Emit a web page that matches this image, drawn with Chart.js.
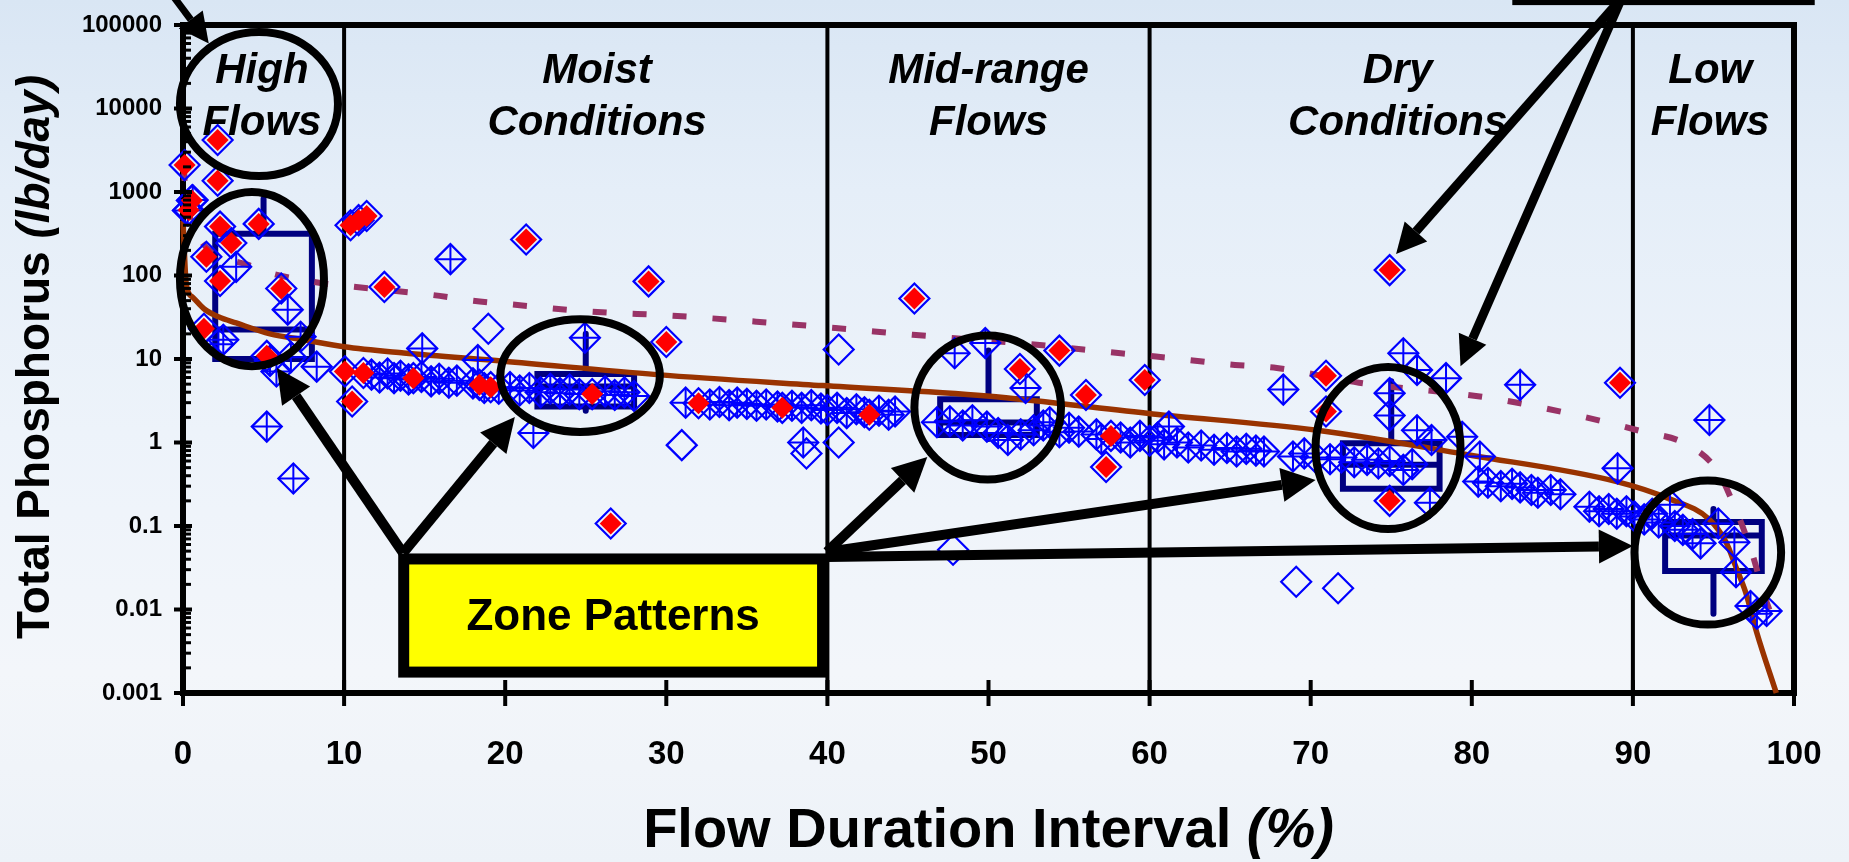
<!DOCTYPE html>
<html>
<head>
<meta charset="utf-8">
<title>Total Phosphorus load duration</title>
<script src="https://cdn.jsdelivr.net/npm/chart.js@4.4.1/dist/chart.umd.min.js"></script>
<style>
  html, body { margin: 0; padding: 0; }
  body {
    width: 1849px; height: 862px; overflow: hidden;
    background: linear-gradient(180deg, #d9e6f4 0%, #e5eef8 22%, #edf3fa 50%, #f3f6fa 78%, #edf2f8 100%);
  }
  #wrap { position: relative; width: 1849px; height: 862px; }
</style>
</head>
<body>
<div id="wrap"><canvas id="loadChart" width="1849" height="862"></canvas></div>
<script>
// axis ticks
const xTickValues = [0, 10, 20, 30, 40, 50, 60, 70, 80, 90, 100];
const xTickLabels = ["0", "10", "20", "30", "40", "50", "60", "70", "80", "90", "100"];
const yTickValues = [0.001, 0.01, 0.1, 1, 10, 100, 1000, 10000, 100000];
const yTickLabels = ["0.001", "0.01", "0.1", "1", "10", "100", "1000", "10000", "100000"];

// flow zones
const zoneEdges = [10, 40, 60, 90];
const zoneNames = [["High", "Flows"], ["Moist", "Conditions"], ["Mid-range", "Flows"], ["Dry", "Conditions"], ["Low", "Flows"]];
const zoneLabelX = [4.9, 25.7, 50, 75.4, 94.8];

// observed loads (flow interval %, lb/day)
const crossedPoints = [
  [0.3, 600], [0.6, 800], [3.3, 127], [6.5, 39], [2.5, 17], [2.2, 15], [7.3, 18.5], [8.3, 8.1],
  [5.8, 7.1], [5.4, 9.5], [6.7, 10.5], [5.2, 1.55], [6.85, 0.37],
  [16.6, 157], [14.85, 13.4], [18.3, 9.7], [11.7, 6.5], [12.2, 6.0], [12.7, 6.7], [13.1, 5.9],
  [13.5, 6.3], [14.0, 5.7], [14.8, 6.1], [15.4, 5.4], [15.9, 5.8], [16.5, 5.2], [17.0, 5.5],
  [18.0, 5.1], [18.7, 4.5], [19.6, 4.4],
  [20.3, 4.6], [20.9, 4.2], [21.5, 4.5], [22.2, 4.0], [22.8, 4.4], [23.4, 3.9], [24.0, 4.3],
  [24.6, 3.8], [26.2, 4.1], [26.8, 3.7], [27.4, 4.0], [28.0, 3.6], [24.95, 18], [21.75, 1.3],
  [31.2, 3.0], [32.7, 2.85], [33.3, 3.05], [33.9, 2.8], [34.4, 3.0], [35.0, 2.9], [35.6, 2.75],
  [36.2, 2.85], [36.9, 2.7], [37.8, 2.75], [38.4, 2.6], [39.0, 2.8], [39.6, 2.55], [38.5, 1.0],
  [40.0, 2.45], [40.6, 2.6], [41.2, 2.25], [41.8, 2.5], [42.3, 2.3], [43.2, 2.4], [43.8, 2.15], [44.2, 2.35],
  [46.8, 1.75], [47.6, 1.8], [48.4, 1.6], [49.0, 1.85], [49.9, 1.55], [50.6, 1.3], [51.2, 1.07],
  [52.0, 1.25], [52.8, 1.4], [53.4, 1.6], [53.8, 1.75], [54.4, 1.33], [55.0, 1.5], [55.6, 1.35],
  [49.8, 15.5], [47.9, 11.7], [52.3, 4.5],
  [56.7, 1.25], [57.0, 1.1], [58.2, 1.15], [58.8, 1.0], [59.4, 1.2], [60.0, 1.05], [60.5, 1.15],
  [61.2, 1.55], [60.9, 0.95], [61.7, 1.0], [62.4, 0.87], [63.2, 0.92], [64.0, 0.82], [64.8, 0.86],
  [65.4, 0.78], [66.0, 0.84], [66.6, 0.8], [67.1, 0.78], [68.3, 4.3],
  [68.9, 0.68], [69.6, 0.74], [70.3, 0.66], [71.2, 0.63], [71.9, 0.66], [72.7, 0.58], [73.5, 0.62],
  [74.2, 0.56], [74.9, 0.6], [75.75, 0.47], [76.3, 0.55], [77.4, 0.19],
  [75.75, 11.7], [76.6, 7.4], [78.4, 5.9], [74.9, 3.9], [74.9, 2.1], [76.6, 1.4], [77.5, 1.07],
  [79.4, 1.17], [80.5, 0.68], [80.4, 0.34],
  [81.0, 0.33], [81.8, 0.3], [82.5, 0.32], [83.0, 0.29], [83.7, 0.27], [84.1, 0.25], [84.9, 0.27],
  [85.5, 0.24], [83.0, 4.9], [89.05, 0.49],
  [87.3, 0.17], [87.9, 0.15], [88.5, 0.16], [89.0, 0.14], [89.6, 0.15], [90.1, 0.13],
  [90.7, 0.12], [91.2, 0.14], [91.6, 0.11], [92.3, 0.18], [92.6, 0.1], [93.1, 0.09], [93.7, 0.08],
  [94.2, 0.062], [95.3, 0.107], [94.75, 1.86], [96.3, 0.064], [96.4, 0.028], [97.3, 0.011],
  [97.7, 0.0089], [98.3, 0.0096]
];
const plainPoints = [
  [18.95, 23], [30.96, 0.93], [38.7, 0.74], [40.7, 13], [40.7, 1.0], [47.8, 0.052], [69.1, 0.0215], [71.7, 0.018]
];
const redPoints = [
  [0.1, 2100], [2.15, 4200], [2.15, 1365], [0.55, 790], [0.35, 610], [2.3, 385], [4.7, 415], [3.0, 245],
  [1.45, 168], [2.3, 86], [6.1, 70], [1.3, 23], [5.2, 10.9], [10.4, 400], [10.9, 460], [11.4, 515],
  [12.5, 73], [10.05, 7.1], [11.2, 6.8], [14.3, 5.9], [10.5, 3.1], [18.4, 4.9], [19.1, 4.6],
  [21.3, 270], [28.9, 85], [30.0, 16], [25.4, 3.8], [26.55, 0.107], [32.0, 2.95], [37.2, 2.6],
  [42.6, 2.15], [45.4, 53], [51.95, 7.6], [54.4, 12.6], [56.05, 3.7], [59.7, 5.6], [57.6, 1.2],
  [57.3, 0.51], [74.9, 116], [70.95, 6.3], [70.95, 2.35], [74.9, 0.2], [89.2, 5.2]
];

// load duration curve (solid) and upper curve (dashed)
const curveX = [0, 0.2, 0.6, 1.3, 2.2, 3.3, 5.4, 7.5, 10, 13.7, 19.9, 29.4, 39.7, 49.9, 60.2, 70.4, 80, 89, 92.3, 94.75, 95.8, 96.4, 97.0, 97.7, 98.9];
const curveY = [450, 80, 55, 40, 32, 27, 20, 17, 14, 11.8, 9.4, 6.5, 4.8, 3.6, 2.2, 1.4, 0.7, 0.34, 0.21, 0.12, 0.063, 0.032, 0.016, 0.0052, 0.001];
const dashedX = [0.05, 0.15, 0.5, 1.2, 2.5, 4.0, 5.2, 7.9, 10.4, 15.3, 18.0, 20.4, 25.3, 30.4, 35.6, 40.5, 45.3, 53.0, 58.2, 60.4, 65.3, 67.9, 73.0, 80.5, 83.0, 88.2, 90.6, 93.2, 95.2, 96.4, 97.4, 98.1, 99.0];
const dashedY = [2000, 1000, 450, 245, 165, 135, 110, 85, 74, 59, 50, 45, 37, 33, 28, 23.5, 19.5, 14.8, 11.7, 10.7, 8.5, 7.8, 5.2, 3.56, 2.95, 1.78, 1.35, 0.98, 0.47, 0.155, 0.047, 0.016, 0.0053];

// zone box plots
const boxCenter = [5, 25, 50, 75, 95];
const boxWhiskerHigh = [830, 20, 12.6, 5.4, 0.16];
const boxQ75 = [316, 6.6, 3.3, 0.98, 0.112];
const boxMedian = [22.5, 4.7, 1.73, 0.54, 0.077];
const boxQ25 = [10, 2.7, 1.23, 0.28, 0.029];
const boxWhiskerLow = [9.5, 2.4, 1.1, 0.25, 0.0089];

// callouts, in axis units: [x left, x right, y top, y bottom]
const ellipses = [
  [-0.19, 9.62, 82400, 1550],
  [-0.19, 8.75, 1000, 8.2],
  [19.7, 29.6, 30, 1.34],
  [45.4, 54.5, 19.1, 0.36],
  [70.3, 79.3, 8.0, 0.092],
  [90.1, 99.2, 0.35, 0.0066]
];
const zoneBox = [13.7, 39.7, 0.0403, 0.00178];
// [x from, y from, x to, y to]
const zoneArrows = [
  [13.66, 0.0475, 5.83, 7.8],
  [13.66, 0.0475, 20.6, 2.02],
  [39.97, 0.0489, 46.2, 0.67],
  [39.97, 0.0489, 70.3, 0.356],
  [39.97, 0.0426, 90.0, 0.0575]
];
const topArrows = [
  [-0.8, 248000, 1.6, 60000],
  [89.3, 210000, 75.3, 181],
  [89.3, 210000, 79.3, 8.2]
];
const topBox = [82.7, 101.1, 1e7, 188000];

const FONT = "'Liberation Sans', Arial, Helvetica, sans-serif";
const toXY = (arr) => arr.map(p => ({ x: p[0], y: p[1] }));
const pair = (xs, ys) => xs.map((x, i) => ({ x: x, y: ys[i] }));

function drawArrow(ctx, x0, y0, x1, y1, w, head, half) {
  const a = Math.atan2(y1 - y0, x1 - x0);
  const bx = x1 - Math.cos(a) * head;
  const by = y1 - Math.sin(a) * head;
  ctx.lineWidth = w;
  ctx.beginPath();
  ctx.moveTo(x0, y0);
  ctx.lineTo(bx, by);
  ctx.stroke();
  ctx.beginPath();
  ctx.moveTo(x1, y1);
  ctx.lineTo(bx + Math.sin(a) * half, by - Math.cos(a) * half);
  ctx.lineTo(bx - Math.sin(a) * half, by + Math.cos(a) * half);
  ctx.closePath();
  ctx.fill();
}

// zone lines and box plots go under the points
const underlay = {
  id: "underlay",
  beforeDatasetsDraw(chart) {
    const ctx = chart.ctx, xs = chart.scales.x, ys = chart.scales.y, area = chart.chartArea;
    ctx.save();
    ctx.strokeStyle = "#000";
    ctx.lineWidth = 4;
    zoneEdges.forEach(v => {
      const x = xs.getPixelForValue(v);
      ctx.beginPath();
      ctx.moveTo(x, area.top);
      ctx.lineTo(x, area.bottom);
      ctx.stroke();
    });
    ctx.strokeStyle = "#000080";
    ctx.lineWidth = 6;
    ctx.lineCap = "round";
    boxCenter.forEach((c, i) => {
      const l = xs.getPixelForValue(c - 3), r = xs.getPixelForValue(c + 3), m = xs.getPixelForValue(c);
      const t = ys.getPixelForValue(boxQ75[i]), b = ys.getPixelForValue(boxQ25[i]);
      const med = ys.getPixelForValue(boxMedian[i]);
      ctx.beginPath();
      ctx.rect(l, t, r - l, b - t);
      ctx.moveTo(l, med); ctx.lineTo(r, med);
      ctx.moveTo(m, t); ctx.lineTo(m, ys.getPixelForValue(boxWhiskerHigh[i]));
      ctx.moveTo(m, b); ctx.lineTo(m, ys.getPixelForValue(boxWhiskerLow[i]));
      ctx.stroke();
    });
    ctx.restore();
  }
};

// frame, ticks, zone names, callouts and axis titles
const overlay = {
  id: "overlay",
  afterDatasetsDraw(chart) {
    const ctx = chart.ctx, xs = chart.scales.x, ys = chart.scales.y, area = chart.chartArea;
    const X = v => xs.getPixelForValue(v), Y = v => ys.getPixelForValue(v);
    ctx.save();
    ctx.strokeStyle = "#000";
    ctx.fillStyle = "#000";

    // top and right frame
    ctx.lineWidth = 6;
    ctx.beginPath();
    ctx.moveTo(area.left - 3, area.top);
    ctx.lineTo(area.right, area.top);
    ctx.lineTo(area.right, area.bottom + 3);
    ctx.stroke();

    // ticks
    ctx.lineWidth = 4;
    xTickValues.forEach(v => {
      ctx.beginPath();
      ctx.moveTo(X(v), area.bottom - 13);
      ctx.lineTo(X(v), area.bottom + 13);
      ctx.stroke();
    });
    yTickValues.forEach(v => {
      ctx.beginPath();
      ctx.moveTo(area.left - 9, Y(v));
      ctx.lineTo(area.left + 9, Y(v));
      ctx.stroke();
    });
    ctx.lineWidth = 3;
    yTickValues.slice(0, -1).forEach(d => {
      for (let m = 2; m < 10; m++) {
        ctx.beginPath();
        ctx.moveTo(area.left, Y(d * m));
        ctx.lineTo(area.left + 8, Y(d * m));
        ctx.stroke();
      }
    });

    // zone names
    ctx.font = "italic bold 42px " + FONT;
    ctx.textAlign = "center";
    ctx.textBaseline = "alphabetic";
    zoneNames.forEach((lines, i) => {
      ctx.fillText(lines[0], X(zoneLabelX[i]), area.top + 58);
      ctx.fillText(lines[1], X(zoneLabelX[i]), area.top + 110);
    });

    // ellipses
    ctx.lineWidth = 8;
    ellipses.forEach(e => {
      const l = X(e[0]), r = X(e[1]), t = Y(e[2]), b = Y(e[3]);
      ctx.beginPath();
      ctx.ellipse((l + r) / 2, (t + b) / 2, (r - l) / 2, (b - t) / 2, 0, 0, Math.PI * 2);
      ctx.stroke();
    });

    // arrows
    ctx.lineCap = "butt";
    zoneArrows.forEach(a => drawArrow(ctx, X(a[0]), Y(a[1]), X(a[2]), Y(a[3]), 10, 34, 17));
    topArrows.forEach((a, i) => drawArrow(ctx, X(a[0]), Y(a[1]), X(a[2]), Y(a[3]), i === 0 ? 7 : 9, 30, 15));

    // partial box at the top right
    ctx.lineWidth = 6;
    ctx.strokeRect(X(topBox[0]), Y(topBox[2]), X(topBox[1]) - X(topBox[0]), Y(topBox[3]) - Y(topBox[2]));

    // Zone Patterns box
    const bl = X(zoneBox[0]), br = X(zoneBox[1]), bt = Y(zoneBox[2]), bb = Y(zoneBox[3]);
    ctx.fillStyle = "#ffff00";
    ctx.fillRect(bl, bt, br - bl, bb - bt);
    ctx.lineWidth = 11;
    ctx.strokeRect(bl, bt, br - bl, bb - bt);
    ctx.fillStyle = "#000";
    ctx.font = "bold 44px " + FONT;
    ctx.textBaseline = "middle";
    ctx.fillText("Zone Patterns", (bl + br) / 2, (bt + bb) / 2 + 2);

    // axis titles with italic units
    ctx.textBaseline = "alphabetic";
    ctx.textAlign = "left";
    const xa = "Flow Duration Interval ", xb = "(%)";
    ctx.font = "bold 56px " + FONT;
    const wa = ctx.measureText(xa).width;
    ctx.font = "italic bold 56px " + FONT;
    const wb = ctx.measureText(xb).width;
    const sx = (area.left + area.right) / 2 - (wa + wb) / 2;
    ctx.font = "bold 56px " + FONT;
    ctx.fillText(xa, sx, area.bottom + 154);
    ctx.font = "italic bold 56px " + FONT;
    ctx.fillText(xb, sx + wa, area.bottom + 154);

    const ya = "Total Phosphorus ", yb = "(lb/day)";
    ctx.font = "bold 46px " + FONT;
    const ha = ctx.measureText(ya).width;
    ctx.font = "italic bold 46px " + FONT;
    const hb = ctx.measureText(yb).width;
    ctx.translate(49, (area.top + area.bottom) / 2 - 2);
    ctx.rotate(-Math.PI / 2);
    ctx.font = "bold 46px " + FONT;
    ctx.fillText(ya, -(ha + hb) / 2, 0);
    ctx.font = "italic bold 46px " + FONT;
    ctx.fillText(yb, -(ha + hb) / 2 + ha, 0);
    ctx.restore();
  }
};

const ctx = document.getElementById("loadChart").getContext("2d");
const chart = new Chart(ctx, {
  type: "scatter",
  data: {
    datasets: [
      {
        label: "Load duration curve",
        data: pair(curveX, curveY),
        showLine: true,
        borderColor: "#993300",
        borderWidth: 5.5,
        pointRadius: 0,
        cubicInterpolationMode: "monotone",
        clip: false,
        order: 10
      },
      {
        label: "Upper curve",
        data: pair(dashedX, dashedY),
        showLine: true,
        borderColor: "#993366",
        borderWidth: 6,
        borderDash: [14, 26],
        pointRadius: 0,
        cubicInterpolationMode: "monotone",
        clip: false,
        order: 9
      },
      {
        label: "Samples",
        data: toXY(crossedPoints),
        pointStyle: "rectRot",
        pointRadius: 15,
        pointBorderColor: "#0000ff",
        pointBackgroundColor: "rgba(0,0,0,0)",
        pointBorderWidth: 2.2,
        clip: false,
        order: 5
      },
      {
        label: "Samples cross",
        data: toXY(crossedPoints),
        pointStyle: "cross",
        pointRadius: 15,
        pointBorderColor: "#0000ff",
        pointBorderWidth: 2,
        clip: false,
        order: 5
      },
      {
        label: "Samples plain",
        data: toXY(plainPoints),
        pointStyle: "rectRot",
        pointRadius: 15,
        pointBorderColor: "#0000ff",
        pointBackgroundColor: "rgba(0,0,0,0)",
        pointBorderWidth: 2.2,
        clip: false,
        order: 5
      },
      {
        label: "Flagged outline",
        data: toXY(redPoints),
        pointStyle: "rectRot",
        pointRadius: 15,
        pointBorderColor: "#0000ff",
        pointBackgroundColor: "rgba(0,0,0,0)",
        pointBorderWidth: 2.2,
        clip: false,
        order: 2
      },
      {
        label: "Flagged",
        data: toXY(redPoints),
        pointStyle: "rectRot",
        pointRadius: 11,
        pointBorderWidth: 0,
        pointBorderColor: "#ff0000",
        pointBackgroundColor: "#ff0000",
        clip: false,
        order: 1
      }
    ]
  },
  options: {
    responsive: false,
    animation: false,
    events: [],
    layout: { padding: { left: 0, top: 25, right: 55, bottom: 0 } },
    plugins: { legend: { display: false }, tooltip: { enabled: false } },
    scales: {
      x: {
        type: "linear",
        min: 0,
        max: 100,
        afterBuildTicks: (s) => { s.ticks = xTickValues.map(v => ({ value: v })); },
        afterFit: (s) => { s.height = 169; s.paddingLeft = 0; s.paddingRight = 0; },
        ticks: {
          callback: (v, i) => xTickLabels[i],
          font: { family: FONT, size: 33, weight: "bold" },
          color: "#000",
          padding: 42,
          autoSkip: false,
          maxRotation: 0
        },
        grid: { display: false, drawTicks: false },
        border: { display: true, color: "#000", width: 6 }
      },
      y: {
        type: "logarithmic",
        min: 0.001,
        max: 100000,
        afterBuildTicks: (s) => { s.ticks = yTickValues.map(v => ({ value: v })); },
        afterFit: (s) => { s.width = 183; s.paddingTop = 0; s.paddingBottom = 0; },
        ticks: {
          callback: (v, i) => yTickLabels[i],
          font: { family: FONT, size: 24, weight: "bold" },
          color: "#000",
          padding: 21,
          autoSkip: false
        },
        grid: { display: false, drawTicks: false },
        border: { display: true, color: "#000", width: 6 }
      }
    }
  },
  plugins: [underlay, overlay]
});
</script>
</body>
</html>
